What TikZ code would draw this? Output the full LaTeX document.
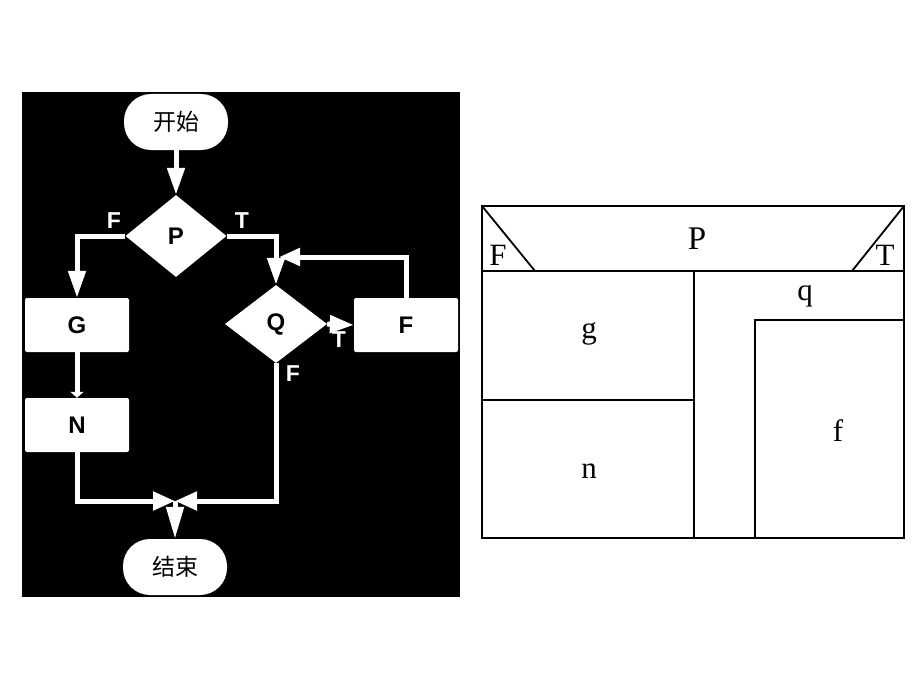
\documentclass[tikz,border=0pt]{standalone}
\usepackage{fontspec}
\setmainfont{Liberation Serif}
\setsansfont{Liberation Sans}
\newfontfamily\cjkfont{Noto Sans CJK SC}
\usetikzlibrary{arrows.meta,shapes.geometric}
\begin{document}
\begin{tikzpicture}[x=1pt,y=-1pt,
  flow/.style={draw=none,fill=white,inner sep=0pt,text=black,font=\sffamily\bfseries\fontsize{24}{24}\selectfont},
  term/.style={flow,rectangle,rounded corners=27pt,minimum width=104pt,minimum height=56pt,font=\cjkfont\fontsize{23}{23}\selectfont},
  proc/.style={flow,rectangle,rounded corners=2pt,minimum width=104pt,minimum height=54pt},
  dec/.style={flow,diamond,minimum width=101pt,minimum height=82pt},
  conn/.style={draw=white,line width=5pt,-{Triangle[length=27pt,width=17pt]}},
  lbl/.style={text=white,inner sep=0pt,font=\sffamily\bfseries\fontsize{23}{23}\selectfont},
  ns/.style={draw=black,line width=1.8pt},
  nstext/.style={anchor=base,inner sep=0pt,text=black,font=\fontsize{31}{31}\selectfont}]
\useasboundingbox (0,0) rectangle (920,690);
\fill[white] (0,0) rectangle (920,690);
% left: flowchart
\fill[black] (22,92) rectangle (460,597);
\node[term] (start) at (176,122) {开始};
\node[dec] (P) at (176,236) {P};
\node[proc] (G) at (77,325) {G};
\node[dec,minimum width=102pt,minimum height=78pt] (Q) at (276,324) {Q};
\node[proc] (F) at (406,325) {F};
\node[proc] (N) at (77,425) {N};
\node[term] (end) at (175,567) {结束};
\coordinate (m) at (175,501);
\coordinate (qj) at (279,257);
\node[lbl] (lF) at (114,221) {F};
\node[lbl] (lT) at (242,221) {T};
\node[lbl] (lT2) at (339,340) {T};
\node[lbl] (lF2) at (293,374) {F};
\draw[conn] (start) -- (P);
\draw[conn] (P.west) -| (G.north);
\draw[conn] (P.east) -| (Q.north);
\draw[conn,-{Triangle[length=24pt,width=17pt]}] (Q.east) -- (F.west);
\draw[conn,-{Triangle[length=21pt,width=17pt]}] (F.north) |- (qj);
\draw[conn,-{Triangle[length=6pt,width=13pt]}] (G) -- (N);
\draw[conn,-{Triangle[length=22pt,width=18pt]}] (N.south) |- (m);
\draw[conn,-{Triangle[length=22pt,width=18pt]}] (Q.south) |- (m);
\draw[conn,-{Triangle[length=32pt,width=17pt]}] (m) -- (end);
% right: N-S diagram
\draw[ns] (482,206) rectangle (904,538);
\draw[ns] (482,271) -- (904,271);
\draw[ns] (482,206) -- (535,271);
\draw[ns] (904,206) -- (852,271);
\draw[ns] (694,271) -- (694,538);
\draw[ns] (482,400) -- (694,400);
\draw[ns] (755,538) -- (755,320) -- (904,320);
\node[nstext,font=\fontsize{33}{33}\selectfont] (tP) at (697,249) {P};
\node[nstext] (tF) at (498,265) {F};
\node[nstext] (tT) at (885,265) {T};
\node[nstext] (tq) at (805,300) {q};
\node[nstext] (tg) at (589,338) {g};
\node[nstext] (tn) at (589,478) {n};
\node[nstext] (tf) at (838,441) {f};
\end{tikzpicture}
\end{document}
